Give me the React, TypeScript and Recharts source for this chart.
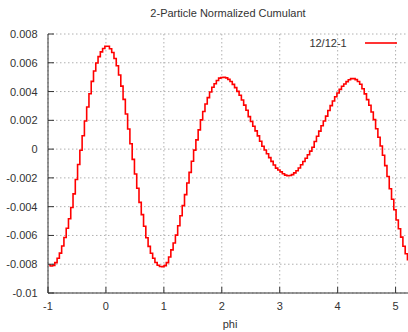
import React from "react";
import {
  LineChart,
  Line,
  XAxis,
  YAxis,
  CartesianGrid,
  Legend,
} from "recharts";

// bin centres of the phi histogram (160 bins from -1 to 2pi-1)
const phi = [
  -0.9804, -0.9411, -0.9018, -0.8626, -0.8233, -0.784, -0.7448, -0.7055, -0.6662, -0.627,
  -0.5877, -0.5484, -0.5091, -0.4699, -0.4306, -0.3913, -0.3521, -0.3128, -0.2735, -0.2343,
  -0.195, -0.1557, -0.1164, -0.0772, -0.0379, 0.0014, 0.0406, 0.0799, 0.1192, 0.1584,
  0.1977, 0.237, 0.2763, 0.3155, 0.3548, 0.3941, 0.4333, 0.4726, 0.5119, 0.5511,
  0.5904, 0.6297, 0.669, 0.7082, 0.7475, 0.7868, 0.826, 0.8653, 0.9046, 0.9438,
  0.9831, 1.0224, 1.0617, 1.1009, 1.1402, 1.1795, 1.2187, 1.258, 1.2973, 1.3365,
  1.3758, 1.4151, 1.4544, 1.4936, 1.5329, 1.5722, 1.6114, 1.6507, 1.69, 1.7292,
  1.7685, 1.8078, 1.8471, 1.8863, 1.9256, 1.9649, 2.0041, 2.0434, 2.0827, 2.1219,
  2.1612, 2.2005, 2.2398, 2.279, 2.3183, 2.3576, 2.3968, 2.4361, 2.4754, 2.5146,
  2.5539, 2.5932, 2.6325, 2.6717, 2.711, 2.7503, 2.7895, 2.8288, 2.8681, 2.9073,
  2.9466, 2.9859, 3.0252, 3.0644, 3.1037, 3.143, 3.1822, 3.2215, 3.2608, 3.3,
  3.3393, 3.3786, 3.4179, 3.4571, 3.4964, 3.5357, 3.5749, 3.6142, 3.6535, 3.6927,
  3.732, 3.7713, 3.8106, 3.8498, 3.8891, 3.9284, 3.9676, 4.0069, 4.0462, 4.0854,
  4.1247, 4.164, 4.2033, 4.2425, 4.2818, 4.3211, 4.3603, 4.3996, 4.4389, 4.4781,
  4.5174, 4.5567, 4.596, 4.6352, 4.6745, 4.7138, 4.753, 4.7923, 4.8316, 4.8708,
  4.9101, 4.9494, 4.9887, 5.0279, 5.0672, 5.1065, 5.1457, 5.185, 5.2243, 5.2635,
];

// 12/12-1 cumulant per bin
const cumulant = [
  -0.00805, -0.00812, -0.00808, -0.00789, -0.00759, -0.00723, -0.00673, -0.00614, -0.0055, -0.00484,
  -0.00406, -0.00311, -0.00211, -0.00107, -0.00008, 0.00093, 0.00195, 0.00293, 0.00385, 0.00471,
  0.00543, 0.00598, 0.00643, 0.00676, 0.00699, 0.00715, 0.00715, 0.00698, 0.00671, 0.0063,
  0.00579, 0.00515, 0.00438, 0.00346, 0.00244, 0.0014, 0.00037, -0.00071, -0.00173, -0.00272,
  -0.0037, -0.00455, -0.00536, -0.00616, -0.00676, -0.00724, -0.00759, -0.00788, -0.00807, -0.00816,
  -0.00817, -0.0081, -0.00789, -0.0075, -0.007, -0.00653, -0.00598, -0.00533, -0.00463, -0.00393,
  -0.00316, -0.00235, -0.00162, -0.00084, -0.00007, 0.00064, 0.00134, 0.00203, 0.00261, 0.00314,
  0.00358, 0.00397, 0.0043, 0.00454, 0.00477, 0.00493, 0.00498, 0.00499, 0.00495, 0.00485,
  0.0047, 0.0045, 0.00427, 0.00401, 0.00374, 0.00341, 0.00306, 0.0027, 0.00226, 0.00192,
  0.00159, 0.00127, 0.00092, 0.00055, 0.0002, -0.00006, -0.00032, -0.00059, -0.00085, -0.0011,
  -0.00132, -0.00145, -0.00158, -0.00171, -0.00181, -0.00185, -0.00183, -0.00177, -0.00165, -0.0015,
  -0.00131, -0.00109, -0.00086, -0.00063, -0.00039, -0.00014, 0.00013, 0.00053, 0.00089, 0.00125,
  0.00162, 0.00195, 0.00229, 0.00268, 0.00302, 0.00334, 0.00364, 0.0039, 0.00415, 0.00437,
  0.00453, 0.00469, 0.00482, 0.0049, 0.0049, 0.00483, 0.0047, 0.00451, 0.0042, 0.00384,
  0.00344, 0.00305, 0.00258, 0.00205, 0.00141, 0.00082, 0.00022, -0.00043, -0.00115, -0.0019,
  -0.00276, -0.00348, -0.00421, -0.00493, -0.00553, -0.00612, -0.00675, -0.00727, -0.00768, -0.00794,
];

const xTicks = [-1, 0, 1, 2, 3, 4, 5];
const yTicks = [-0.01, -0.008, -0.006, -0.004, -0.002, 0, 0.002, 0.004, 0.006, 0.008];

const data = phi.map((p, i) => ({ phi: p, c12: cumulant[i] }));

const INK = "#333333";

// gnuplot style ticks: marks point into the plot, labels outside
const BottomTick = (props: any) => {
  const { x, y, payload } = props;
  return (
    <g>
      <line x1={x} y1={y} x2={x} y2={y - 6} stroke={INK} />
      <text x={x} y={y + 17} textAnchor="middle" fontSize={11} fill={INK}>
        {payload.value}
      </text>
    </g>
  );
};

const TopTick = (props: any) => {
  const { x, y } = props;
  return <line x1={x} y1={y} x2={x} y2={y + 6} stroke={INK} />;
};

const LeftTick = (props: any) => {
  const { x, y, payload } = props;
  return (
    <g>
      <line x1={x} y1={y} x2={x + 6} y2={y} stroke={INK} />
      <text x={x - 10.5} y={y + 4} textAnchor="end" fontSize={11} fill={INK}>
        {payload.value}
      </text>
    </g>
  );
};

const LegendBox = () => (
  <svg width={100} height={14}>
    <text x={46.7} y={11} textAnchor="end" fontSize={11} fill={INK}>
      12/12-1
    </text>
    <line x1={65} x2={97} y1={7} y2={7} stroke="#ff0000" strokeWidth={1.6} />
  </svg>
);

export default function App() {
  return (
    <div
      style={{
        position: "absolute",
        left: 0,
        top: 0,
        width: 408,
        height: 332,
        overflow: "hidden",
        background: "#fff",
        fontFamily: "'Liberation Sans', Arial, sans-serif",
      }}
    >
      {/* Title */}
      <div
        style={{
          position: "absolute",
          left: 0,
          top: 6,
          width: 456,
          textAlign: "center",
          fontSize: 11,
          lineHeight: "14px",
          color: INK,
        }}
      >
        2-Particle Normalized Cumulant
      </div>

      <LineChart
        width={412}
        height={332}
        data={data}
        margin={{ top: 34, right: 0, left: 0, bottom: 0 }}
      >
        <CartesianGrid
          xAxisId="b"
          stroke="#b0b0b0"
          strokeDasharray="1.5 2.5"
        />
        <XAxis
          xAxisId="b"
          dataKey="phi"
          type="number"
          domain={[-1, 5.2832]}
          ticks={xTicks}
          interval={0}
          height={39}
          tickSize={0}
          tickMargin={0}
          tickLine={false}
          tick={<BottomTick />}
          axisLine={{ stroke: INK }}
          label={{
            value: "phi",
            position: "insideBottom",
            offset: 4,
            fontSize: 11,
            fill: INK,
          }}
        />
        <XAxis
          xAxisId="top"
          orientation="top"
          dataKey="phi"
          type="number"
          domain={[-1, 5.2832]}
          ticks={xTicks}
          interval={0}
          height={0}
          tickSize={0}
          tickMargin={0}
          tickLine={false}
          tick={<TopTick />}
          axisLine={{ stroke: INK }}
        />
        <YAxis
          type="number"
          domain={[-0.01, 0.008]}
          ticks={yTicks}
          interval={0}
          width={48}
          tickSize={0}
          tickMargin={0}
          tickLine={false}
          tick={<LeftTick />}
          axisLine={{ stroke: INK }}
        />
        <Legend
          layout="horizontal"
          align="center"
          verticalAlign="middle"
          content={<LegendBox />}
          wrapperStyle={{ position: "absolute", left: 300, top: 36, width: 100 }}
        />
        <Line
          xAxisId="b"
          type="step"
          dataKey="c12"
          name="12/12-1"
          stroke="#ff0000"
          strokeWidth={1.6}
          dot={false}
          isAnimationActive={false}
        />
      </LineChart>
    </div>
  );
}
